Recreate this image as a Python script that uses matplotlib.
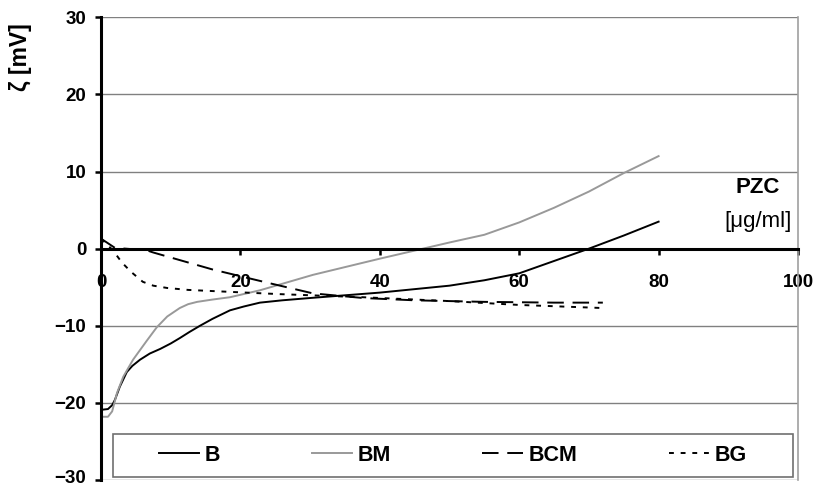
import numpy as np
import matplotlib
matplotlib.use("Agg")
import matplotlib.pyplot as plt
from matplotlib.patches import Rectangle
from matplotlib.transforms import ScaledTranslation

plt.rcParams["font.family"] = ["Liberation Sans", "DejaVu Sans"]

# --- data -------------------------------------------------------------------
b_x = [0, 1.0, 1.6, 2.0, 2.7, 3.7, 4.5, 5.6, 7.0, 8.5, 10.0, 11.3, 12.7, 14.2,
       16, 18.5, 20.5, 22.8, 26, 30, 40, 50, 55, 60, 65, 70, 75, 80]
b_y = [-20.9, -20.8, -20.3, -19.6, -17.9, -16.0, -15.2, -14.4, -13.6, -13.0,
       -12.3, -11.6, -10.8, -10.0, -9.1, -8.0, -7.5, -7.0, -6.7, -6.4, -5.7,
       -4.8, -4.1, -3.2, -1.6, 0.0, 1.7, 3.5]

bm_x = [0, 1.0, 1.6, 2.3, 3.2, 4.6, 6.6, 8.0, 9.5, 11.3, 12.5, 13.8, 16,
        18.5, 22.8, 30.4, 40, 46.2, 50, 55, 60, 65, 70, 75, 80]
bm_y = [-21.8, -21.8, -21.1, -18.7, -16.6, -14.4, -11.9, -10.2, -8.8, -7.7,
        -7.2, -6.9, -6.6, -6.3, -5.4, -3.4, -1.3, 0.0, 0.8, 1.8, 3.4, 5.3,
        7.4, 9.8, 12.0]

bcm_x = [0, 2.0, 6.5, 7.5, 16, 23.8, 30.4, 37.6, 45, 55, 65, 72]
bcm_y = [1.3, 0.1, -0.2, -0.5, -2.7, -4.4, -5.8, -6.4, -6.7, -6.9, -7.0, -7.0]

bg_x = [0, 1.7, 3.0, 4.3, 6.0, 7.5, 9.5, 12.5, 16, 25.7, 37.6, 50, 60, 72]
bg_y = [1.3, -0.2, -1.8, -3.0, -4.3, -4.8, -5.1, -5.35, -5.5, -5.9, -6.3,
        -6.8, -7.3, -7.7]

x_ticks = [0, 20, 40, 60, 80, 100]
y_ticks = [-30, -20, -10, 0, 10, 20, 30]

# --- figure -----------------------------------------------------------------
fig = plt.figure(figsize=(8.18, 4.88), dpi=100)
ax = fig.add_axes([101 / 818, 1 - 480 / 488, 697 / 818, 462.7 / 488])

ax.plot(b_x, b_y, color="black", lw=1.4, label="B")
ax.plot(bm_x, bm_y, color="#999999", lw=1.4, label="BM")
ax.plot(bcm_x, bcm_y, color="black", lw=1.4, ls=(0, (8.5, 4.5)), label="BCM")
ax.plot(bg_x, bg_y, color="black", lw=1.4, ls=(0, (2.5, 3.5)), label="BG")

ax.set_xlim(0, 100)
ax.set_ylim(-30, 30)
ax.set_xticks(x_ticks)
ax.set_yticks(y_ticks)
ax.yaxis.grid(True, color="#808080", lw=1.0)
ax.set_axisbelow(True)

ax.spines["top"].set_visible(False)
ax.spines["right"].set_color("#a0a0a0")
ax.spines["right"].set_linewidth(1.2)
ax.spines["left"].set_linewidth(2.2)
ax.spines["bottom"].set_position(("data", 0))
ax.spines["bottom"].set_linewidth(2.2)
ax.tick_params(axis="y", direction="out", length=4.5, width=1.8, pad=6.0,
               labelsize=13.5)
ax.tick_params(axis="x", direction="out", length=4.5, width=1.8, pad=13.5,
               labelsize=13.5)
for lab in ax.get_xticklabels() + ax.get_yticklabels():
    lab.set_fontweight("bold")

# the bottom label sits on the figure edge; lift it a few pixels
t0 = ax.yaxis.get_major_ticks()[0]
t0.label1.set_transform(t0.label1.get_transform()
                        + ScaledTranslation(0, 0.035, fig.dpi_scale_trans))

# legend box (frame drawn separately so the entries can sit inset)
ax.add_patch(Rectangle((0.0172, 0.0065), 0.9756, 0.0929, transform=ax.transAxes,
                       facecolor="white", edgecolor="#707070", lw=1.2,
                       zorder=2.5))
leg = ax.legend(ncol=4, mode="expand", loc="center",
                bbox_to_anchor=(0.0832, 0.0065, 0.8436, 0.093),
                frameon=False, prop={"weight": "bold", "size": 15.5},
                handlelength=1.86, handletextpad=0.28, borderaxespad=0,
                borderpad=0)
leg.set_zorder(3)

ax.text(97.4, 7.9, "PZC", ha="right", va="center", fontsize=16,
        fontweight="bold")
ax.text(99.1, 3.55, "[\u03bcg/ml]", ha="right", va="center", fontsize=16)

fig.text(20.5 / 818, 1 - 57.5 / 488, "\u03b6 [mV]", rotation=90, ha="center",
         va="center", fontsize=16.5, fontweight="bold")

fig.savefig("out.png", dpi=100)
